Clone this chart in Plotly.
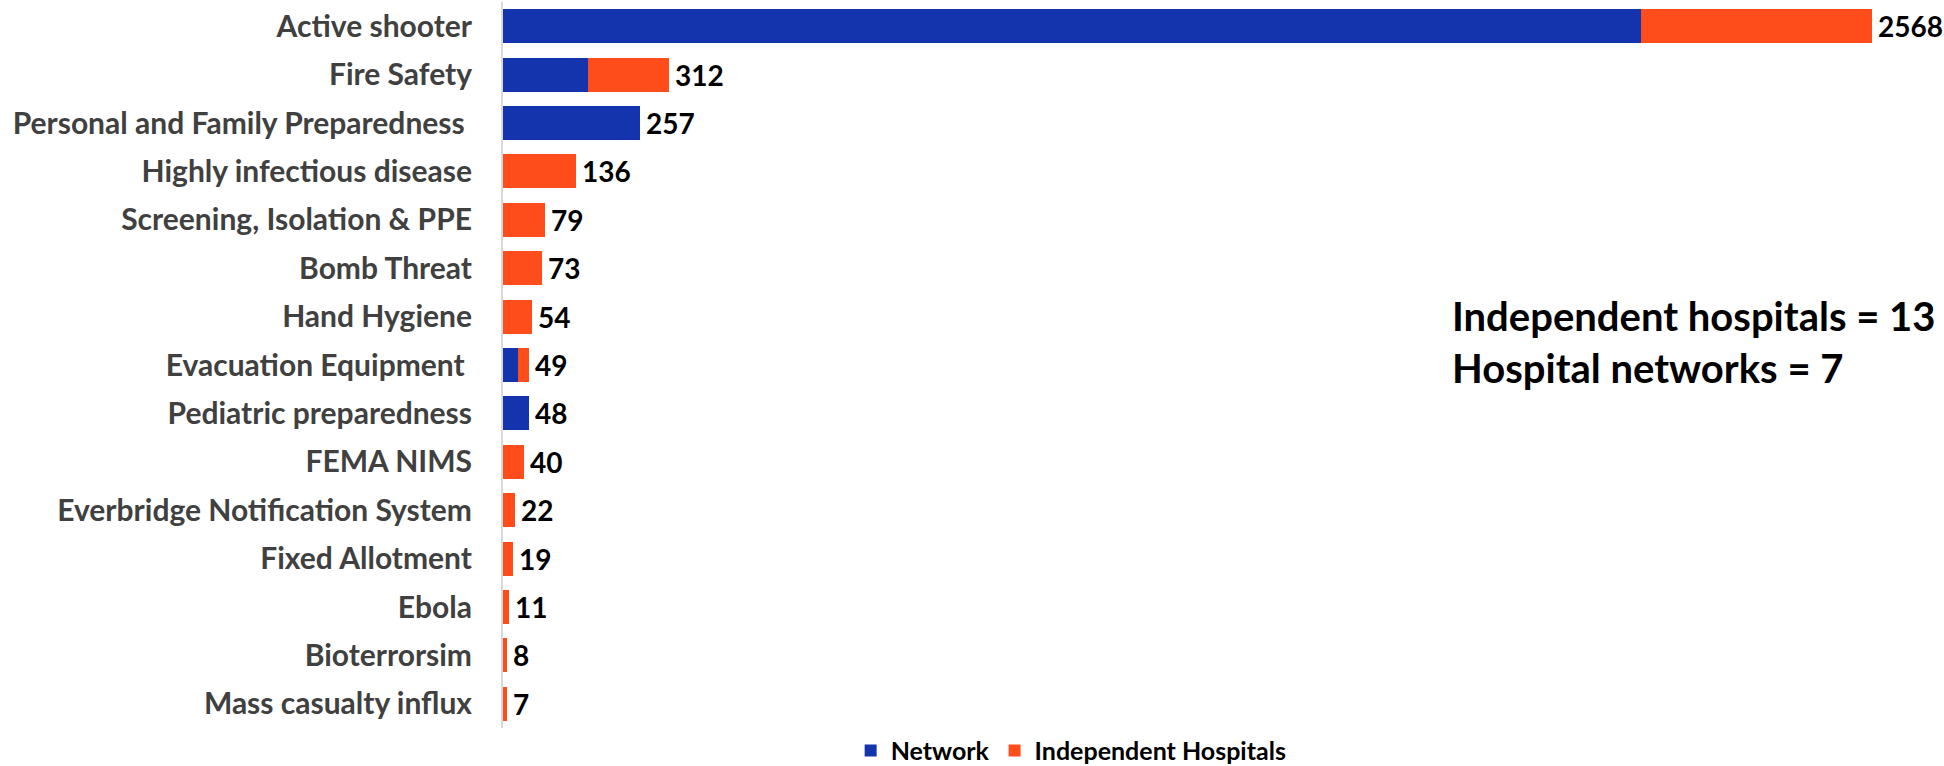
import plotly.graph_objects as go

# Training topics, top to bottom
topics = [
    "Active shooter", "Fire Safety", "Personal and Family Preparedness\u00a0",
    "Highly infectious disease", "Screening, Isolation & PPE", "Bomb Threat",
    "Hand Hygiene", "Evacuation Equipment\u00a0", "Pediatric preparedness",
    "FEMA NIMS", "Everbridge Notification System", "Fixed Allotment",
    "Ebola", "Bioterrorsim", "Mass casualty influx",
]
network = [2134, 160, 257, 0, 0, 0, 0, 28, 48, 0, 0, 0, 0, 0, 0]
independent = [434, 152, 0, 136, 79, 73, 54, 21, 0, 40, 22, 19, 11, 8, 7]
totals = [2568, 312, 257, 136, 79, 73, 54, 49, 48, 40, 22, 19, 11, 8, 7]

summary_lines = ["Independent hospitals = 13", "Hospital networks = 7"]

BLUE = "#1434AE"
ORANGE = "#FE4C1A"
FONT = "Lato"

fig = go.Figure()
fig.add_trace(go.Bar(
    y=topics, x=network, orientation="h", name="Network",
    marker=dict(color=BLUE, line=dict(width=0)),
))
fig.add_trace(go.Bar(
    y=topics, x=independent, orientation="h", name="Independent Hospitals",
    marker=dict(color=ORANGE, line=dict(width=0)),
))

# Total labels at the end of each stacked bar
for t, v in zip(topics, totals):
    fig.add_annotation(
        x=v, y=t, xref="x", yref="y", text=str(v), showarrow=False,
        xanchor="left", yanchor="middle", xshift=4,
        font=dict(family=FONT, size=28, color="#000000", weight=700),
    )

# Summary text block
for i, line in enumerate(summary_lines):
    fig.add_annotation(
        x=0.657, y=0.567 - 0.071 * i, xref="paper", yref="paper",
        text=line, showarrow=False, xanchor="left", yanchor="middle",
        font=dict(family=FONT, size=40, color="#000000", weight=700),
    )

fig.update_layout(
    barmode="stack",
    bargap=0.3,
    width=1944, height=766,
    margin=dict(l=503, r=0, t=2, b=38, autoexpand=False),
    paper_bgcolor="white", plot_bgcolor="white",
    font=dict(family=FONT),
    showlegend=True,
    legend=dict(
        orientation="h", xref="container", yref="container",
        x=0.551, y=0.02, xanchor="center", yanchor="middle",
        font=dict(family=FONT, size=25, color="#000000", weight=700),
        itemwidth=30, traceorder="normal",
    ),
    xaxis=dict(
        range=[0, 2703], showgrid=False, zeroline=False,
        showticklabels=False, showline=False,
    ),
    yaxis=dict(
        autorange="reversed", showgrid=False, zeroline=False,
        showline=True, linecolor="#D9D9D9", linewidth=2,
        ticks="", ticklabelstandoff=23,
        tickfont=dict(family=FONT, size=30, color="#404040", weight=700),
    ),
)

fig.write_html("out.html")
